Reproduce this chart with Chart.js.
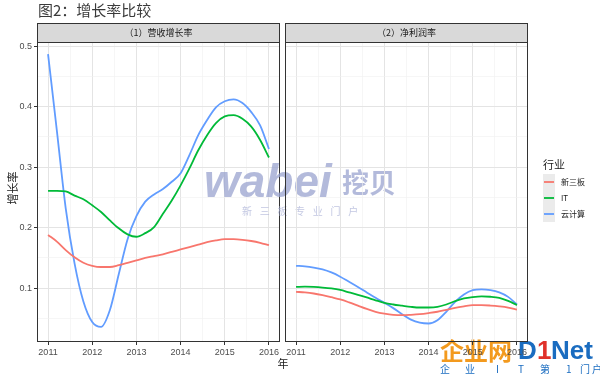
<!DOCTYPE html>
<html lang="zh">
<head>
<meta charset="UTF-8">
<script src="https://cdn.jsdelivr.net/npm/chart.js"></script>
<title>图2：增长率比较</title>
<style>
  body { margin: 0; background: #fff; }
  #wrap { position: relative; width: 600px; height: 375px; overflow: hidden; background: #fff; }
  canvas { position: absolute; left: 0; top: 0; }
</style>
</head>
<body>
<div id="wrap">
  <canvas id="left" width="600" height="375"></canvas>
  <canvas id="right" width="600" height="375"></canvas>
</div>
<script>
const years = [2011, 2011.2, 2011.4, 2011.6, 2011.8, 2012, 2012.2, 2012.4, 2012.6, 2012.8,
  2013, 2013.2, 2013.4, 2013.6, 2013.8, 2014, 2014.2, 2014.4, 2014.6, 2014.8,
  2015, 2015.2, 2015.4, 2015.6, 2015.8, 2016];

const industries = ['新三板', 'IT', '云计算'];
const colors = ['#F8766D', '#00BA38', '#619CFF'];
const panelTitles = ['（1）营收增长率', '（2）净利润率'];

const xTicks = [2011, 2012, 2013, 2014, 2015, 2016];
const xMinor = [2011.5, 2012.5, 2013.5, 2014.5, 2015.5];
const yTicks = [0.1, 0.2, 0.3, 0.4, 0.5];
const yMinor = [0.05, 0.15, 0.25, 0.35, 0.45];

// (1) 营收增长率
const revXsb = [0.188, 0.177, 0.163, 0.151, 0.142, 0.137, 0.135, 0.135, 0.138, 0.142,
  0.146, 0.150, 0.153, 0.156, 0.160, 0.164, 0.168, 0.172, 0.176, 0.179,
  0.181, 0.181, 0.180, 0.178, 0.175, 0.171];
const revIT = [0.261, 0.261, 0.260, 0.253, 0.247, 0.237, 0.226, 0.212, 0.199, 0.189,
  0.185, 0.191, 0.201, 0.223, 0.245, 0.270, 0.298, 0.328, 0.353, 0.373,
  0.384, 0.386, 0.380, 0.367, 0.345, 0.316];
const revCloud = [0.487, 0.36, 0.232, 0.141, 0.078, 0.044, 0.036, 0.064, 0.123, 0.181,
  0.219, 0.243, 0.255, 0.264, 0.276, 0.29, 0.32, 0.353, 0.378, 0.399,
  0.409, 0.412, 0.406, 0.391, 0.369, 0.33];

// (2) 净利润率
const npXsb = [0.094, 0.093, 0.0912, 0.0884, 0.085, 0.0814, 0.0765, 0.071, 0.0656, 0.061,
  0.058, 0.056, 0.0554, 0.056, 0.057, 0.0588, 0.061, 0.0642, 0.0675, 0.070,
  0.072, 0.072, 0.0713, 0.070, 0.068, 0.0645];
const npIT = [0.102, 0.1025, 0.102, 0.101, 0.0995, 0.097, 0.093, 0.089, 0.0846, 0.080,
  0.0757, 0.073, 0.071, 0.0691, 0.068, 0.068, 0.069, 0.073, 0.0785, 0.083,
  0.0852, 0.0863, 0.0858, 0.084, 0.079, 0.072];
const npCloud = [0.137, 0.136, 0.134, 0.131, 0.126, 0.119, 0.1105, 0.102, 0.093, 0.084,
  0.0757, 0.067, 0.057, 0.048, 0.043, 0.0416, 0.047, 0.061, 0.0774, 0.0896,
  0.0967, 0.098, 0.0967, 0.093, 0.0856, 0.073];

const FONT = "'Liberation Sans', 'Noto Sans CJK SC', sans-serif";
const CJK = "'Noto Sans CJK SC', sans-serif";
Chart.defaults.font.family = FONT;

function buildTicks(major, minor) {
  return scale => {
    scale.ticks = major.map(v => ({value: v}))
      .concat(minor.map(v => ({value: v, minor: true})))
      .sort((a, b) => a.value - b.value);
  };
}

function grid(showTicks) {
  return {
    color: c => c.tick && c.tick.minor ? '#f0f0f0' : '#e4e4e4',
    lineWidth: c => c.tick && c.tick.minor ? 0.6 : 1,
    drawTicks: showTicks,
    tickLength: 3,
    tickWidth: 1,
    tickColor: c => c.tick && c.tick.minor ? 'rgba(0,0,0,0)' : '#333'
  };
}

function datasets(series) {
  return series.map((arr, k) => ({
    label: industries[k],
    data: years.map((x, i) => ({x: x, y: arr[i]})),
    borderColor: colors[k],
    borderWidth: 1.8,
    pointRadius: 0,
    cubicInterpolationMode: 'monotone',
    fill: false
  }));
}

function framePlugin(title, extras) {
  return {
    id: 'frame',
    afterDraw(chart) {
      const ctx = chart.ctx, a = chart.chartArea;
      ctx.save();
      // strip
      ctx.fillStyle = '#d9d9d9';
      ctx.fillRect(a.left, 23, a.right - a.left, a.top - 23);
      ctx.strokeStyle = '#333';
      ctx.lineWidth = 1;
      ctx.strokeRect(a.left + 0.5, 23.5, a.right - a.left - 1, a.top - 23);
      ctx.fillStyle = '#1a1a1a';
      ctx.font = '9px ' + CJK;
      ctx.textAlign = 'center';
      ctx.textBaseline = 'middle';
      ctx.fillText(title, (a.left + a.right) / 2, 33);
      // panel border
      ctx.strokeRect(a.left + 0.5, a.top + 0.5, a.right - a.left - 1, a.bottom - a.top - 1);
      ctx.restore();
      if (extras) extras(ctx);
    }
  };
}

function decorations(ctx) {
  ctx.save();
  // title
  ctx.fillStyle = '#3a3a3a';
  ctx.font = '15px ' + CJK;
  ctx.textAlign = 'left';
  ctx.textBaseline = 'middle';
  ctx.fillText('图2：增长率比较', 38, 10);

  // axis titles
  ctx.fillStyle = '#1a1a1a';
  ctx.font = '11px ' + CJK;
  ctx.textAlign = 'center';
  ctx.fillText('年', 283, 364);
  ctx.save();
  ctx.translate(13, 188);
  ctx.rotate(-Math.PI / 2);
  ctx.fillText('增长率', 0, 0);
  ctx.restore();

  // legend
  ctx.textAlign = 'left';
  ctx.font = '11px ' + CJK;
  ctx.fillText('行业', 543, 165);
  industries.forEach((name, k) => {
    const y = 174 + k * 16;
    ctx.fillStyle = '#ebebeb';
    ctx.fillRect(543, y, 12, 16);
    ctx.strokeStyle = colors[k];
    ctx.lineWidth = 1.8;
    ctx.beginPath();
    ctx.moveTo(544, y + 8);
    ctx.lineTo(554, y + 8);
    ctx.stroke();
    ctx.fillStyle = '#1a1a1a';
    ctx.font = '8px ' + CJK;
    ctx.fillText(name, 561, y + 8);
  });

  // watermark: wabei
  ctx.globalAlpha = 0.75;
  ctx.fillStyle = '#9aa3cf';
  ctx.textBaseline = 'alphabetic';
  ctx.font = 'italic bold 46px ' + FONT;
  ctx.fillText('wabei', 204, 197);
  ctx.font = 'bold 27px ' + CJK;
  ctx.fillText('挖贝', 342, 193);
  ctx.fillStyle = '#aeb4d8';
  ctx.font = '10px ' + CJK;
  '新三板专业门户'.split('').forEach((ch, i) => ctx.fillText(ch, 242 + i * 17.7, 215));

  // watermark: D1Net
  ctx.globalAlpha = 1;
  ctx.fillStyle = '#f39a1e';
  ctx.font = 'bold 24px ' + CJK;
  ctx.fillText('企业网', 440, 360);
  ctx.font = 'bold 26px ' + FONT;
  ctx.fillStyle = '#1a6cc0';
  ctx.fillText('D', 518, 359);
  ctx.fillStyle = '#e0312a';
  ctx.fillText('1', 537, 359);
  ctx.fillStyle = '#1a6cc0';
  ctx.fillText('Net', 551, 359);
  ctx.font = '10px ' + CJK;
  const sub = ['企', '业', 'I', 'T', '第', '1', '门', '户'];
  const subX = [440, 465, 496, 518, 540, 566, 580, 592];
  sub.forEach((ch, i) => ctx.fillText(ch, subX[i], 373));
  ctx.restore();
}

function makePanel(id, series, title, opts) {
  return new Chart(document.getElementById(id), {
    type: 'line',
    data: {datasets: datasets(series)},
    options: {
      responsive: false,
      animation: false,
      devicePixelRatio: 1,
      layout: {padding: opts.padding},
      plugins: {legend: {display: false}, tooltip: {enabled: false}},
      scales: {
        x: {
          type: 'linear',
          min: 2010.75,
          max: 2016.25,
          afterBuildTicks: buildTicks(xTicks, xMinor),
          afterFit: s => { s.height = 33; },
          grid: grid(true),
          border: {display: false},
          ticks: {
            autoSkip: false, maxRotation: 0, padding: 2,
            color: '#4d4d4d', font: {size: 9},
            callback: (v, i, t) => t[i].minor ? '' : String(v)
          }
        },
        y: {
          type: 'linear',
          min: 0.011,
          max: 0.507,
          afterBuildTicks: buildTicks(yTicks, yMinor),
          afterFit: s => { s.width = opts.yWidth; },
          grid: grid(opts.yLabels),
          border: {display: false},
          ticks: {
            display: opts.yLabels, autoSkip: false, padding: 2,
            color: '#4d4d4d', font: {size: 9},
            callback: (v, i, t) => t[i].minor ? '' : v.toFixed(1)
          }
        }
      }
    },
    plugins: [framePlugin(title, opts.extras)]
  });
}

makePanel('left', [revXsb, revIT, revCloud], panelTitles[0],
  {padding: {top: 42, left: 0, right: 320, bottom: 0}, yWidth: 37, yLabels: true, extras: decorations});
makePanel('right', [npXsb, npIT, npCloud], panelTitles[1],
  {padding: {top: 42, left: 285, right: 72, bottom: 0}, yWidth: 0, yLabels: false});
</script>
</body>
</html>
